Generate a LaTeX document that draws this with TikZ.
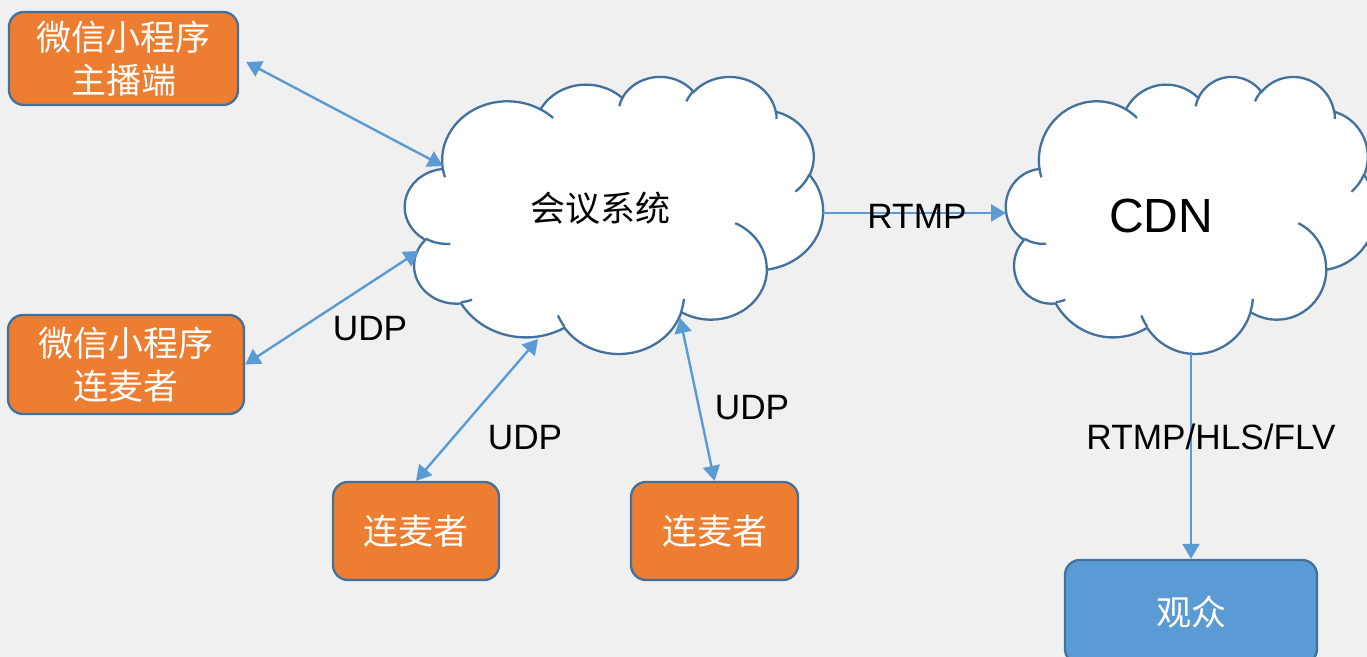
\documentclass[tikz,border=0pt]{standalone}
\usepackage{fontspec}
\setmainfont{Liberation Sans}
\newfontfamily\cjk{Noto Sans CJK SC}
\usetikzlibrary{arrows.meta}
\definecolor{bg}{HTML}{F0F0F0}
\definecolor{orng}{HTML}{ED7D31}
\definecolor{bdr}{HTML}{41719C}
\definecolor{lblue}{HTML}{5B9BD5}
\pgfmathdeclarefunction{vang}{3}{\begingroup\pgfmathparse{atan2((#2)*sin(#1),(#3)*cos(#1))}\pgfmathsmuggle\pgfmathresult\endgroup}
\tikzset{
  carc/.style n args={4}{x radius=#1, y radius=#2, start angle={vang(#3,#1,#2)},
     delta angle={mod(vang(#3+#4,#1,#2)-vang(#3,#1,#2)+720,360)}},
  cloudstyle/.style={fill=white, draw=bdr, line width=1.15pt},
  cloudline/.style={draw=bdr, line width=1.15pt},
  obox/.style={draw=bdr, fill=orng, line width=1.15pt, rounded corners=7.5pt, text=white,
     align=center, font=\cjk\fontsize{17.5pt}{21.5pt}\selectfont, inner sep=0pt},
  bbox/.style={obox, fill=lblue},
  conn/.style={draw=lblue, line width=1.2pt},
  lbl/.style={font=\fontsize{17.6pt}{20pt}\selectfont, inner sep=0pt},
}
\newcommand\cloudshape{%
  \filldraw[cloudstyle] (39.00,143.70)
    arc[carc={67.53}{91.90}{-190.4875}{123.7805}]
    arc[carc={53.33}{72.67}{-144.1024}{89.9452}]
    arc[carc={43.65}{59.45}{-145.8079}{99.7230}]
    arc[carc={48.57}{65.95}{-130.9861}{117.2417}]
    arc[carc={53.33}{72.73}{-78.7089}{109.0269}]
    arc[carc={67.75}{92.20}{-46.2673}{130.2690}]
    arc[carc={57.85}{78.67}{0.6250}{114.0333}]
    arc[carc={67.52}{92.15}{22.4516}{115.1726}]
    arc[carc={77.20}{105.43}{66.2426}{75.7110}]
    arc[carc={43.60}{59.18}{-274.9421}{146.7356}]
    arc[carc={43.45}{59.45}{-246.8285}{152.5189}] -- cycle;
  \draw[cloudline]
    (46.93,261.77) arc[carc={43.45}{59.45}{86.7420}{26.4295}]
    (69.28,348.99) arc[carc={43.60}{59.18}{73.6105}{11.4475}]
    (164.78,390.90) arc[carc={67.52}{92.15}{137.6242}{14.0811}]
    (288.27,347.51) arc[carc={67.52}{92.15}{6.4533}{15.9984}]
    (341.29,229.54) arc[carc={57.85}{78.67}{-70.2924}{70.9174}]
    (417.98,153.54) arc[carc={53.33}{72.73}{30.3180}{27.7515}]
    (383.24,54.26) arc[carc={48.57}{65.95}{-13.7443}{14.8589}]
    (290.78,39.52) arc[carc={48.57}{65.95}{-149.1815}{18.1954}]
    (221.41,47.20) arc[carc={43.65}{59.45}{-163.4943}{17.6864}]
    (140.00,51.92) arc[carc={67.53}{91.90}{-66.7070}{12.3194}]
    (41.27,157.89) arc[carc={67.53}{91.90}{157.6544}{11.8582}];
}
\begin{document}
\begin{tikzpicture}[x=0.5pt, y=-0.5pt, >={Triangle[length=7.5pt,width=8.5pt]}]
\useasboundingbox (0,0) rectangle (1367,657);
\clip (0,0) rectangle (1367,657);
\fill[bg] (0,0) rectangle (1367,657);
% clouds
\begin{scope}[shift={(405,76)}, x={(0.4838pt,0pt)}, y={(0pt,-0.3206pt)}]
  \cloudshape
\end{scope}
\begin{scope}[shift={(1006,76)}, x={(0.4282pt,0pt)}, y={(0pt,-0.3206pt)}]
  \cloudshape
\end{scope}
\node[font=\cjk\fontsize{17.5pt}{20pt}\selectfont, inner sep=0pt] (hy) at (600,208) {会议系统};
\node[font=\fontsize{24pt}{28pt}\selectfont, inner sep=0pt] (cdn) at (1161,216) {CDN};
% boxes
\node[obox, minimum width=114.5pt, minimum height=46.5pt] (b1) at (123.5,58.5) {微信小程序\\主播端};
\node[obox, minimum width=118pt, minimum height=49.5pt] (b2) at (126,364.5) {微信小程序\\连麦者};
\node[obox, minimum width=83pt, minimum height=49pt] (b3) at (416,531) {连麦者};
\node[obox, minimum width=83.5pt, minimum height=49pt] (b4) at (714.5,531) {连麦者};
\node[bbox, minimum width=126pt, minimum height=52pt] (b5) at (1191,612) {观众};
% cloud anchor points
\coordinate (c1nw) at (443,166);
\coordinate (c1w) at (419,251);
\coordinate (c1s1) at (538,339);
\coordinate (c1s2) at (680,318);
\coordinate (c1e) at (823,213);
\coordinate (c2w) at (1006,213);
\coordinate (c2s) at (1191,352);
% connectors
\draw[conn,<->] ([shift={(7,3.5)}]b1.east) -- (c1nw);
\draw[conn,<->] (b2.east) -- (c1w);
\draw[conn,<->] (b3.north) -- (c1s1);
\draw[conn,<->] (b4.north) -- (c1s2);
\draw[conn,->] (c1e) -- (c2w);
\draw[conn,->] (c2s) -- (b5.north);
% labels
\node[lbl] (u1) at (370,329) {UDP};
\node[lbl] (u2) at (525,438) {UDP};
\node[lbl] (u3) at (752,408) {UDP};
\node[lbl] (rt) at (917,216) {RTMP};
\node[lbl] (rh) at (1211,437) {RTMP/HLS/FLV};
\end{tikzpicture}
\end{document}
